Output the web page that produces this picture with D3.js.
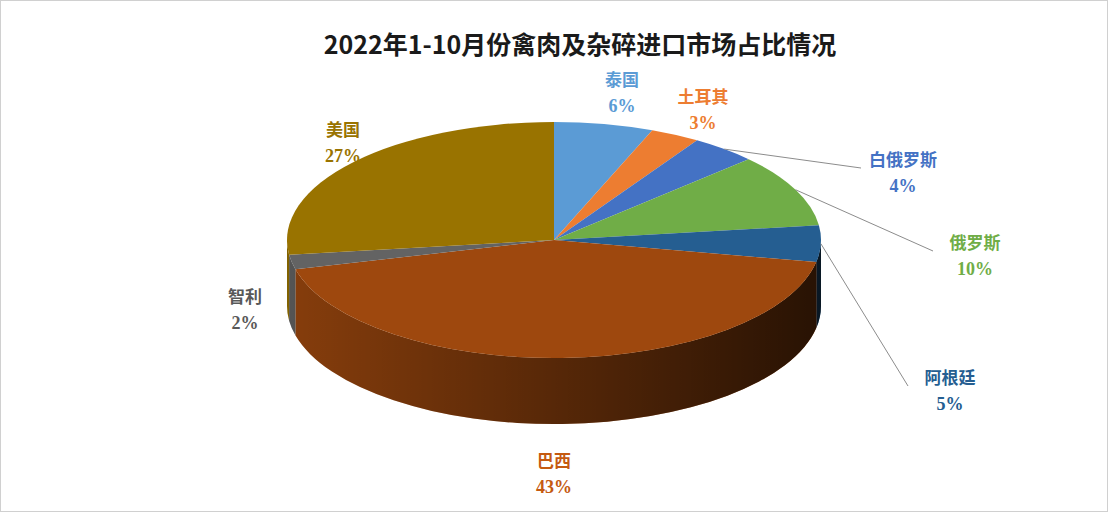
<!DOCTYPE html>
<html>
<head>
<meta charset="utf-8">
<script src="https://cdn.jsdelivr.net/npm/d3@7"></script>
<style>
body { margin: 0; background: #fff; }
</style>
</head>
<body>
<svg id="chart" width="1108" height="512"></svg>
<script>
const width = 1108, height = 512;
const cx = 554, cy = 240, rx = 267, ry = 118, depth = 66;

const countries = ['泰国', '土耳其', '白俄罗斯', '俄罗斯', '阿根廷', '巴西', '智利', '美国'];
const shares = [6, 3, 4, 10, 5, 43, 2, 27];
const colors = ['#5b9bd5', '#ed7d31', '#4472c4', '#70ad47', '#255e91', '#9e480e', '#636363', '#997300'];
const labelColors = ['#5b9bd5', '#ed7d31', '#4472c4', '#70ad47', '#255e91', '#c55a11', '#595959', '#997300'];
// label anchor positions and whether a leader line is drawn
const labelPos = [[622, 80], [703, 97], [903, 160], [975, 243], [950, 378], [554, 461], [245, 297], [343, 130]];
const leader = [false, false, true, true, true, false, false, false];

const cjk = '"Noto Sans CJK SC", "Noto Sans", sans-serif';
const serif = '"Liberation Serif", "DejaVu Serif", serif';

const svg = d3.select('#chart');

svg.append('rect').attr('x', 0.5).attr('y', 0.5).attr('width', width - 1).attr('height', height - 1)
	.attr('fill', 'none').attr('stroke', '#d0d0d0');

svg.append('text')
	.attr('x', 580).attr('y', 54)
	.attr('text-anchor', 'middle')
	.style('font-family', cjk)
	.attr('font-size', 25).attr('font-weight', 'bold')
	.attr('fill', '#1a1a1a')
	.text('2022年1-10月份禽肉及杂碎进口市场占比情况');

const pie = d3.pie().sort(null).value(d => d);
const arcs = pie(shares);

let pt = (a, dy = 0) => [cx + rx * Math.sin(a), cy - ry * Math.cos(a) + dy];

const defs = svg.append('defs');
const shade = defs.append('linearGradient').attr('id', 'shade')
	.attr('gradientUnits', 'userSpaceOnUse')
	.attr('x1', cx - rx).attr('x2', cx + rx).attr('y1', 0).attr('y2', 0);
shade.append('stop').attr('offset', '0%').attr('stop-color', '#000').attr('stop-opacity', 0.15);
shade.append('stop').attr('offset', '100%').attr('stop-color', '#000').attr('stop-opacity', 0.75);

// side walls (front half only)
const sides = svg.append('g');
arcs.forEach((d, i) => {
	const s = Math.max(d.startAngle, Math.PI / 2);
	const e = Math.min(d.endAngle, Math.PI * 1.5);
	if (e <= s) return;
	const p0 = pt(s), p1 = pt(e), q1 = pt(e, depth), q0 = pt(s, depth);
	const path = `M${p0}A${rx},${ry} 0 0 1 ${p1}L${q1}A${rx},${ry} 0 0 0 ${q0}Z`;
	sides.append('path').attr('d', path).attr('fill', colors[i]);
	sides.append('path').attr('d', path).attr('fill', 'url(#shade)');
});

// top faces
const tops = svg.append('g');
arcs.forEach((d, i) => {
	const p0 = pt(d.startAngle), p1 = pt(d.endAngle);
	const large = d.endAngle - d.startAngle > Math.PI ? 1 : 0;
	tops.append('path')
		.attr('d', `M${cx},${cy}L${p0}A${rx},${ry} 0 ${large} 1 ${p1}Z`)
		.attr('fill', colors[i]);
});

// leader lines
arcs.forEach((d, i) => {
	if (!leader[i]) return;
	const m = (d.startAngle + d.endAngle) / 2;
	const p = pt(m);
	svg.append('line')
		.attr('x1', p[0]).attr('y1', p[1])
		.attr('x2', labelPos[i][0] - 42).attr('y2', labelPos[i][1] + 8)
		.attr('stroke', '#8c8c8c').attr('stroke-width', 1);
});

// labels
const labels = svg.append('g');
arcs.forEach((d, i) => {
	const g = labels.append('g').attr('fill', labelColors[i]).attr('text-anchor', 'middle');
	g.append('text').attr('x', labelPos[i][0]).attr('y', labelPos[i][1] + 6)
		.style('font-family', cjk)
		.attr('font-size', 17).attr('font-weight', 'bold').text(countries[i]);
	g.append('text').attr('x', labelPos[i][0]).attr('y', labelPos[i][1] + 32)
		.style('font-family', serif)
		.attr('font-size', 18).attr('font-weight', 'bold').text(shares[i] + '%');
});
</script>
</body>
</html>
